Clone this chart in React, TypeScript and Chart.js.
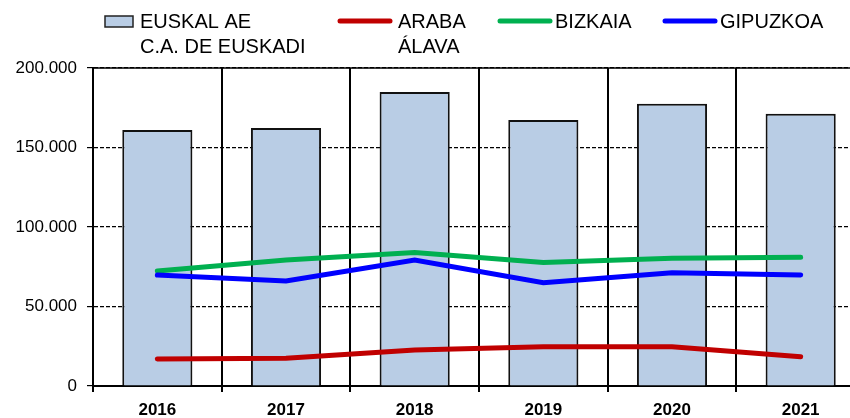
import React, { useEffect, useRef } from "react";
import { Chart, registerables } from "chart.js";

Chart.register(...registerables);

const years = ["2016", "2017", "2018", "2019", "2020", "2021"];
const euskalAE = [161000, 162300, 184900, 167300, 177500, 171200];
const araba = [17000, 17400, 22600, 24700, 24700, 18400];
const bizkaia = [72300, 79200, 83900, 77600, 80300, 80900];
const gipuzkoa = [69800, 66000, 79200, 65000, 71300, 69800];

const legendLabels = [
  ["EUSKAL AE", "C.A. DE EUSKADI"],
  ["ARABA", "ÁLAVA"],
  ["BIZKAIA"],
  ["GIPUZKOA"],
];

const BAR_FILL = "#B9CDE5";
const RED = "#C00000";
const GREEN = "#00B050";
const BLUE = "#0000FF";
const FONT = "Arial, 'Liberation Sans', sans-serif";

const fmt = (v: number) => String(v).replace(/\B(?=(\d{3})+(?!\d))/g, ".");

const topLinePlugin = {
  id: "topLine",
  beforeDatasetsDraw(chart: any) {
    const { ctx, chartArea } = chart;
    ctx.save();
    ctx.strokeStyle = "#000";
    ctx.lineWidth = 1.5;
    ctx.beginPath();
    ctx.moveTo(chartArea.left, chartArea.top);
    ctx.lineTo(chartArea.right, chartArea.top);
    ctx.stroke();
    ctx.restore();
  },
};

const legendPlugin = {
  id: "customLegend",
  afterDraw(chart: any) {
    const { ctx } = chart;
    ctx.save();
    ctx.font = `20px ${FONT}`;
    ctx.fillStyle = "#000";
    ctx.textBaseline = "alphabetic";
    const y1 = 28;
    const y2 = 53;
    ctx.fillStyle = BAR_FILL;
    ctx.fillRect(105, 16, 28, 11);
    ctx.strokeStyle = "#222";
    ctx.lineWidth = 1.5;
    ctx.strokeRect(105, 16, 28, 11);
    const swatches = [
      { x: 340, color: RED },
      { x: 500, color: GREEN },
      { x: 665, color: BLUE },
    ];
    ctx.lineCap = "round";
    ctx.lineWidth = 5;
    swatches.forEach((s) => {
      ctx.strokeStyle = s.color;
      ctx.beginPath();
      ctx.moveTo(s.x, 21);
      ctx.lineTo(s.x + 50, 21);
      ctx.stroke();
    });
    ctx.fillStyle = "#000";
    const textX = [140, 398, 555, 720];
    legendLabels.forEach((lines, i) => {
      ctx.fillText(lines[0], textX[i], y1);
      if (lines[1]) ctx.fillText(lines[1], textX[i], y2);
    });
    ctx.restore();
  },
};

export default function App() {
  const ref = useRef<HTMLCanvasElement>(null);
  useEffect(() => {
    if (!ref.current) return;
    const chart = new Chart(ref.current, {
      type: "bar",
      data: {
        labels: years,
        datasets: [
          {
            type: "line",
            label: "ARABA ÁLAVA",
            data: araba,
            borderColor: RED,
            borderWidth: 5,
            pointRadius: 0,
            tension: 0,
            borderCapStyle: "round",
            order: 1,
          } as any,
          {
            type: "line",
            label: "BIZKAIA",
            data: bizkaia,
            borderColor: GREEN,
            borderWidth: 5,
            pointRadius: 0,
            tension: 0,
            borderCapStyle: "round",
            order: 1,
          } as any,
          {
            type: "line",
            label: "GIPUZKOA",
            data: gipuzkoa,
            borderColor: BLUE,
            borderWidth: 5,
            pointRadius: 0,
            tension: 0,
            borderCapStyle: "round",
            order: 0,
          } as any,
          {
            type: "bar",
            label: "EUSKAL AE C.A. DE EUSKADI",
            data: euskalAE,
            backgroundColor: BAR_FILL,
            borderColor: "#111",
            borderWidth: 2,
            categoryPercentage: 1,
            barPercentage: 0.545,
            order: 2,
          },
        ],
      },
      options: {
        responsive: false,
        animation: false,
        layout: { padding: { top: 68, right: 3, left: 0, bottom: 0 } },
        plugins: {
          legend: { display: false },
          tooltip: { enabled: false },
        },
        scales: {
          x: {
            offset: true,
            grid: {
              offset: true,
              color: "#000",
              lineWidth: 2,
              tickLength: 6,
              drawOnChartArea: true,
            },
            border: { color: "#000", width: 2 },
            ticks: {
              color: "#000",
              font: { family: FONT, size: 17, weight: "bold" },
              padding: 8,
            },
            afterFit(scale: any) {
              scale.height = 32;
            },
          },
          y: {
            min: 0,
            max: 200000,
            grid: {
              color: "#000",
              lineWidth: 1.2,
              tickLength: 6,
              tickBorderDash: [],
            },
            border: { color: "#000", width: 2, dash: [4, 2] },
            ticks: {
              stepSize: 50000,
              color: "#000",
              font: { family: FONT, size: 17 },
              padding: 10,
              callback: (v: any) => fmt(Number(v)),
            },
            afterFit(scale: any) {
              scale.width = 93;
            },
          },
        },
      },
      plugins: [topLinePlugin, legendPlugin],
    });
    return () => chart.destroy();
  }, []);
  return (
    <div
      style={{
        position: "fixed",
        left: 0,
        top: 0,
        width: 850,
        height: 418,
        overflow: "hidden",
        background: "#fff",
      }}
    >
      <canvas ref={ref} width={868} height={418} style={{ display: "block" }} />
    </div>
  );
}
